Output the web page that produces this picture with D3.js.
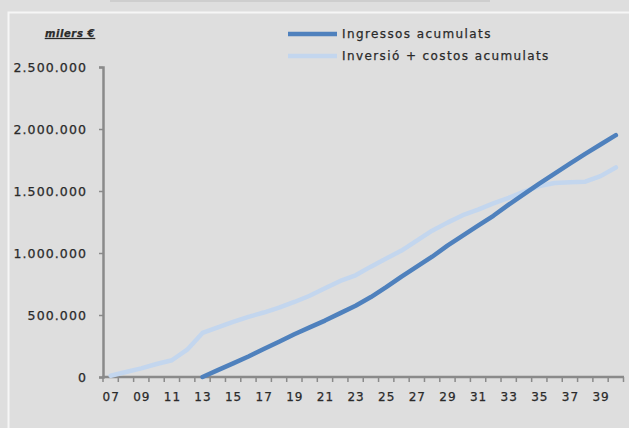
<!DOCTYPE html>
<html>
<head>
<meta charset="utf-8">
<script src="https://cdn.jsdelivr.net/npm/d3@7"></script>
<style>
  html, body { margin: 0; padding: 0; background: #dedede; }
  svg { display: block; }
  text { font-family: "DejaVu Sans", Verdana, sans-serif; fill: #2a2a2a; stroke: #2a2a2a; stroke-width: 0.25px; }
</style>
</head>
<body>
<svg id="chart" width="629" height="428"></svg>
<script>
// Years 2007–2040, shown as two-digit labels
const years = ["07","08","09","10","11","12","13","14","15","16","17","18","19","20",
  "21","22","23","24","25","26","27","28","29","30","31","32","33","34","35","36",
  "37","38","39","40"];

// Cumulative revenue (thousand €); starts in 2013
const ingressos = [null,null,null,null,null,null,0,55000,110000,165000,225000,285000,
  345000,400000,455000,515000,575000,645000,725000,810000,890000,970000,1060000,
  1140000,1220000,1300000,1390000,1475000,1560000,1640000,1720000,1800000,1875000,1950000];

// Cumulative investment + costs (thousand €)
const inversio = [10000,40000,70000,105000,135000,220000,355000,400000,445000,485000,
  520000,560000,605000,655000,715000,775000,820000,890000,955000,1020000,1100000,
  1180000,1245000,1305000,1350000,1400000,1445000,1495000,1540000,1565000,1570000,
  1575000,1620000,1690000];

const seriesNames = ["Ingressos acumulats", "Inversió + costos acumulats"];
const yTicks = [0, 500000, 1000000, 1500000, 2000000, 2500000];
const xLabelYears = years.filter((d, i) => i % 2 === 0);

const colDark = "#4f81bd";
const colLight = "#c3d6ee";

const svg = d3.select("#chart");

// chart-area frame
svg.append("rect").attr("x", 0).attr("y", 0).attr("width", 629).attr("height", 428).attr("fill", "#dedede");
svg.append("line").attr("x1", 110).attr("x2", 490).attr("y1", 1).attr("y2", 1)
  .attr("stroke", "#c8c8c8").attr("stroke-width", 1.5);
svg.append("path").attr("d", "M8.5,428 V12.5 H629")
  .attr("fill", "none").attr("stroke", "#f6f6f6").attr("stroke-width", 2);

const x = d3.scaleBand().domain(years).range([103, 623.5]).padding(0);
const y = d3.scaleLinear().domain([0, 2500000]).range([377, 67]);
const cx = d => x(d) + x.bandwidth() / 2;

const loc = d3.formatLocale({ decimal: ",", thousands: ".", grouping: [3], currency: ["", " €"] });
const fmt = loc.format(",d");

// y axis
const yAxis = svg.append("g").attr("transform", "translate(103,0)")
  .call(d3.axisLeft(y).tickValues(yTicks).tickFormat(fmt).tickSize(4).tickPadding(12));
yAxis.select(".domain").attr("stroke", "#8a8a8a").attr("stroke-width", 2.5);
yAxis.selectAll(".tick line").attr("stroke", "#8a8a8a").attr("stroke-width", 1.5);
yAxis.selectAll("text").attr("font-size", 12.5).attr("fill", "#2a2a2a")
  .attr("letter-spacing", 1.1).style("font-family", "DejaVu Sans, sans-serif");

// x axis: labels at category centres, ticks at category boundaries
const xAxis = svg.append("g").attr("transform", "translate(0,377)")
  .call(d3.axisBottom(x).tickValues(xLabelYears).tickSize(0).tickPadding(15));
xAxis.select(".domain").remove();
xAxis.selectAll("text").attr("font-size", 12).attr("fill", "#2a2a2a")
  .attr("letter-spacing", 1).attr("dx", 0.5).style("font-family", "DejaVu Sans, sans-serif");
svg.append("g").selectAll("line").data(years.concat(["end"])).join("line")
  .attr("x1", (d, i) => x.range()[0] + i * x.step())
  .attr("x2", (d, i) => x.range()[0] + i * x.step())
  .attr("y1", 377).attr("y2", 382)
  .attr("stroke", "#8a8a8a").attr("stroke-width", 1.5);
svg.append("line").attr("x1", 102).attr("x2", 624).attr("y1", 377).attr("y2", 377)
  .attr("stroke", "#8a8a8a").attr("stroke-width", 2.5);

// unit label
svg.append("text").attr("x", 70).attr("y", 37).attr("text-anchor", "middle")
  .attr("font-size", 10).attr("font-weight", "bold").attr("font-style", "italic")
  .attr("letter-spacing", 0.6).attr("text-decoration", "underline").text("milers €");

// series lines
const line = d3.line().defined(d => d[1] !== null).x(d => cx(d[0])).y(d => y(d[1]));
svg.append("path").datum(years.map((d, i) => [d, inversio[i]]))
  .attr("fill", "none").attr("stroke", colLight).attr("stroke-width", 4.5)
  .attr("stroke-linejoin", "round").attr("stroke-linecap", "round").attr("d", line);
svg.append("path").datum(years.map((d, i) => [d, ingressos[i]]))
  .attr("fill", "none").attr("stroke", colDark).attr("stroke-width", 4.5)
  .attr("stroke-linejoin", "round").attr("stroke-linecap", "round").attr("d", line);

// legend
const legend = svg.append("g");
[[colDark, 34], [colLight, 56]].forEach(([c, ly], i) => {
  legend.append("line").attr("x1", 288).attr("x2", 337).attr("y1", ly).attr("y2", ly)
    .attr("stroke", c).attr("stroke-width", 4.5);
  legend.append("text").attr("x", 342).attr("y", ly).attr("dy", "0.35em")
    .attr("font-size", 12).attr("letter-spacing", 1.4).text(seriesNames[i]);
});
</script>
</body>
</html>
